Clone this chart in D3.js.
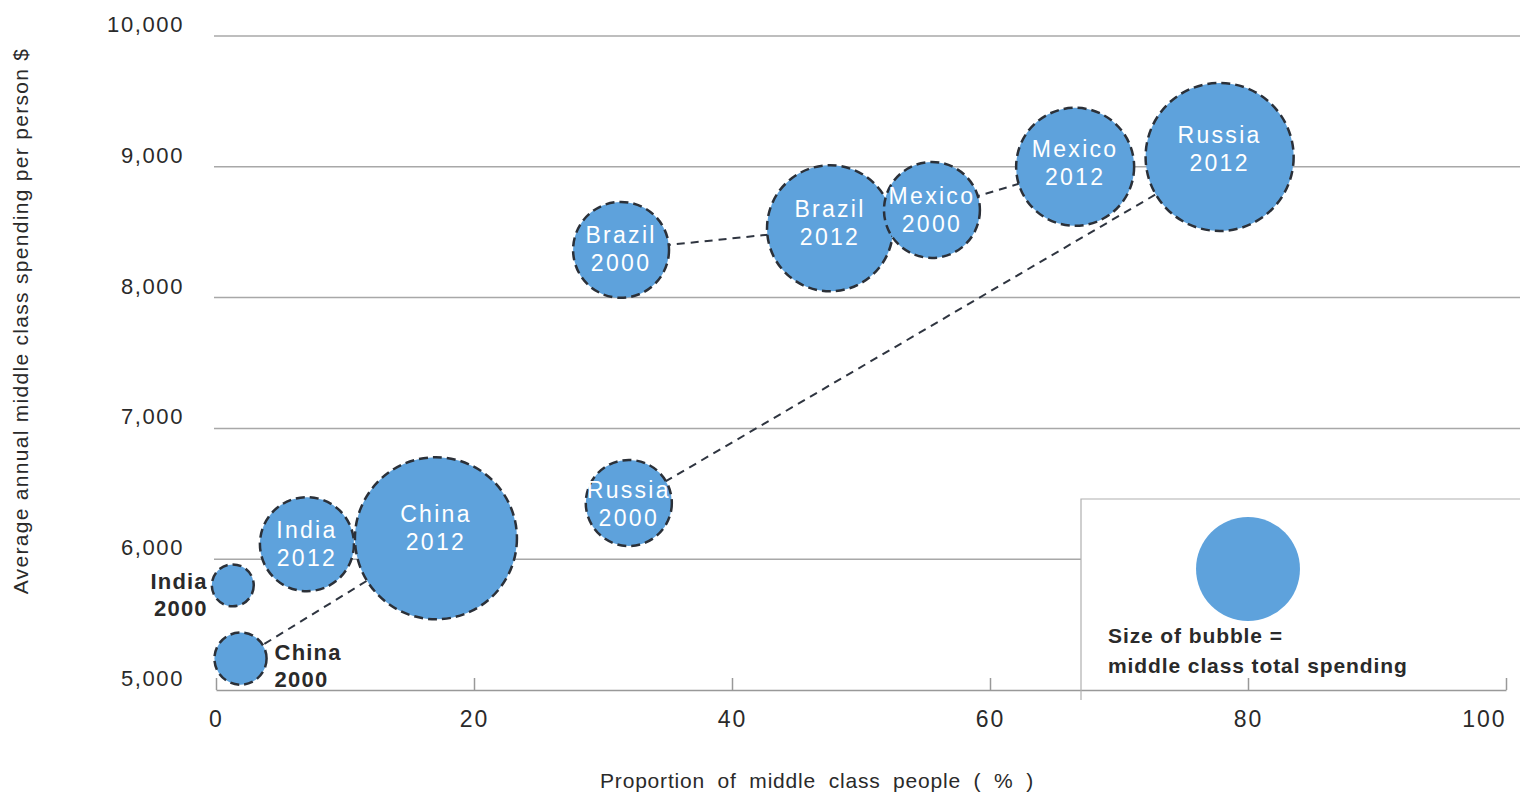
<!DOCTYPE html>
<html>
<head>
<meta charset="utf-8">
<script src="https://cdn.jsdelivr.net/npm/d3@7"></script>
<style>
  body { margin: 0; background: #fff; }
  text { font-family: 'Liberation Sans', Arial, sans-serif; }
</style>
</head>
<body>
<div id="chart"></div>
<script>
// bubbles
let countries = ['India', 'China', 'India', 'China', 'Brazil', 'Russia', 'Brazil', 'Mexico', 'Mexico', 'Russia']
let years = ['2000', '2000', '2012', '2012', '2000', '2000', '2012', '2000', '2012', '2012']
let middleClassShare = [1.3, 1.9, 7.05, 17.05, 31.4, 32.0, 47.6, 55.5, 66.6, 77.8]
let spendingPerPerson = [5800, 5240, 6115, 6160, 8365, 6430, 8530, 8670, 9000, 9075]
let totalSpending = [44, 68, 221, 656, 230, 185, 397, 230, 348, 548]

// countries whose 2000 and 2012 bubbles are joined by a dashed line
let linkedCountries = ['China', 'Brazil', 'Mexico', 'Russia']
// bubbles labelled outside the circle
let outsideLabels = { 'India 2000': 'left', 'China 2000': 'right' }

let xTicks = [0, 20, 40, 60, 80, 100]
let yTicks = [5000, 6000, 7000, 8000, 9000, 10000]
let legendSpending = 270

let width = 1520
let height = 796

let svg = d3
  .select('#chart')
  .append('svg')
  .attr('width', width)
  .attr('height', height)

let xPositionScale = d3.scaleLinear().domain([0, 100]).range([216, 1506])
let yPositionScale = d3.scaleLinear().domain([5000, 10000]).range([690, 36])
let radiusScale = d3.scaleSqrt().domain([0, 656]).range([0, 81])

let bubbleFill = '#5ea2dc'
let inkColor = '#2a2a2a'
let legendLeft = 1081
let legendTop = 499

let datapoints = countries.map((c, i) => ({
  country: c,
  year: years[i],
  share: middleClassShare[i],
  spending: spendingPerPerson[i],
  total: totalSpending[i]
}))

// gridlines (6,000 stops at the legend box)
svg
  .selectAll('.grid-line')
  .data(yTicks.filter(d => d > 5000))
  .enter()
  .append('line')
  .attr('class', 'grid-line')
  .attr('x1', xPositionScale(0) - 2)
  .attr('x2', d => (yPositionScale(d) > legendTop ? legendLeft : width))
  .attr('y1', d => yPositionScale(d))
  .attr('y2', d => yPositionScale(d))
  .attr('stroke', '#a8a8a8')
  .attr('stroke-width', 1.5)

// y tick labels
svg
  .selectAll('.y-label')
  .data(yTicks)
  .enter()
  .append('text')
  .attr('class', 'y-label')
  .attr('x', 184)
  .attr('y', d => yPositionScale(d) - 4)
  .attr('text-anchor', 'end')
  .attr('font-size', 22)
  .attr('letter-spacing', 1.6)
  .attr('fill', inkColor)
  .text(d => d3.format(',')(d))

// x axis, ticks pointing up
let xAxis = d3
  .axisBottom(xPositionScale)
  .tickValues(xTicks)
  .tickSizeInner(-12)
  .tickSizeOuter(0)
  .tickPadding(21)
svg
  .append('g')
  .attr('class', 'axis x-axis')
  .attr('transform', `translate(0,${yPositionScale(5000)})`)
  .call(xAxis)

svg.select('.x-axis .domain').attr('stroke', '#999').attr('stroke-width', 1.5)
svg.selectAll('.x-axis .tick line').attr('stroke', '#999').attr('stroke-width', 1.5)
svg
  .selectAll('.x-axis .tick text')
  .attr('font-size', 23)
  .attr('letter-spacing', 2)
  .attr('font-family', "'Liberation Sans', Arial, sans-serif")
  .attr('fill', inkColor)
  .attr('text-anchor', d => (d === 100 ? 'end' : 'middle'))

// legend box
svg
  .append('path')
  .attr('d', `M${legendLeft},${yPositionScale(5000) + 10}V${legendTop}H${width}`)
  .attr('fill', 'none')
  .attr('stroke', '#b0b0b0')
  .attr('stroke-width', 1.2)

svg
  .append('circle')
  .attr('cx', 1248)
  .attr('cy', 569)
  .attr('r', radiusScale(legendSpending))
  .attr('fill', bubbleFill)

svg
  .append('text')
  .attr('font-size', 21)
  .attr('font-weight', 'bold')
  .attr('letter-spacing', 0.9)
  .attr('fill', inkColor)
  .selectAll('tspan')
  .data(['Size of bubble =', 'middle class total spending'])
  .enter()
  .append('tspan')
  .attr('x', 1108)
  .attr('y', (d, i) => 643 + i * 30)
  .text(d => d)

// dashed connectors between 2000 and 2012
let links = linkedCountries.map(c => ({
  from: datapoints.find(d => d.country === c && d.year === '2000'),
  to: datapoints.find(d => d.country === c && d.year === '2012')
}))

svg
  .selectAll('.link-line')
  .data(links)
  .enter()
  .append('line')
  .attr('class', 'link-line')
  .attr('x1', d => xPositionScale(d.from.share))
  .attr('y1', d => yPositionScale(d.from.spending))
  .attr('x2', d => xPositionScale(d.to.share))
  .attr('y2', d => yPositionScale(d.to.spending))
  .attr('stroke', '#2f3540')
  .attr('stroke-width', 2)
  .attr('stroke-dasharray', '8,6')

// bubbles
svg
  .selectAll('.bubble')
  .data(datapoints)
  .enter()
  .append('circle')
  .attr('class', 'bubble')
  .attr('cx', d => xPositionScale(d.share))
  .attr('cy', d => yPositionScale(d.spending))
  .attr('r', d => radiusScale(d.total))
  .attr('fill', bubbleFill)
  .attr('stroke', '#2b3038')
  .attr('stroke-width', 2.5)
  .attr('stroke-dasharray', '9,5')

// labels inside bubbles
let inside = datapoints.filter(d => !outsideLabels[d.country + ' ' + d.year])
svg
  .selectAll('.bubble-label')
  .data(inside)
  .enter()
  .append('text')
  .attr('class', 'bubble-label')
  .attr('text-anchor', 'middle')
  .attr('font-size', 23)
  .attr('letter-spacing', 2.3)
  .attr('fill', '#fff')
  .each(function(d) {
    let cx = xPositionScale(d.share)
    let cy = yPositionScale(d.spending) - 0.3 * radiusScale(d.total)
    d3.select(this)
      .selectAll('tspan')
      .data([d.country, d.year])
      .enter()
      .append('tspan')
      .attr('x', cx)
      .attr('y', (t, i) => cy + 8 + i * 28)
      .text(t => t)
  })

// labels outside the small bubbles
let outside = datapoints.filter(d => outsideLabels[d.country + ' ' + d.year])
svg
  .selectAll('.outside-label')
  .data(outside)
  .enter()
  .append('text')
  .attr('class', 'outside-label')
  .attr('font-size', 22)
  .attr('font-weight', 'bold')
  .attr('letter-spacing', 1.2)
  .attr('fill', inkColor)
  .attr('text-anchor', d => (outsideLabels[d.country + ' ' + d.year] === 'left' ? 'end' : 'start'))
  .each(function(d) {
    let side = outsideLabels[d.country + ' ' + d.year]
    let r = radiusScale(d.total)
    let cx = xPositionScale(d.share)
    let cy = yPositionScale(d.spending)
    let x = side === 'left' ? cx - r - 4 : cx + r + 8
    let y0 = side === 'left' ? cy + 4 : cy + 1
    d3.select(this)
      .selectAll('tspan')
      .data([d.country, d.year])
      .enter()
      .append('tspan')
      .attr('x', x)
      .attr('y', (t, i) => y0 + i * 27)
      .text(t => t)
  })

// axis titles
svg
  .append('text')
  .attr('x', 817)
  .attr('y', 788)
  .attr('text-anchor', 'middle')
  .attr('font-size', 21)
  .attr('letter-spacing', 0.8)
  .attr('word-spacing', 6)
  .attr('fill', inkColor)
  .text('Proportion of middle class people ( % )')

svg
  .append('text')
  .attr('transform', 'translate(28,321) rotate(-90)')
  .attr('text-anchor', 'middle')
  .attr('font-size', 21)
  .attr('letter-spacing', 1.3)
  .attr('fill', inkColor)
  .text('Average annual middle class spending per person $')
</script>
</body>
</html>
